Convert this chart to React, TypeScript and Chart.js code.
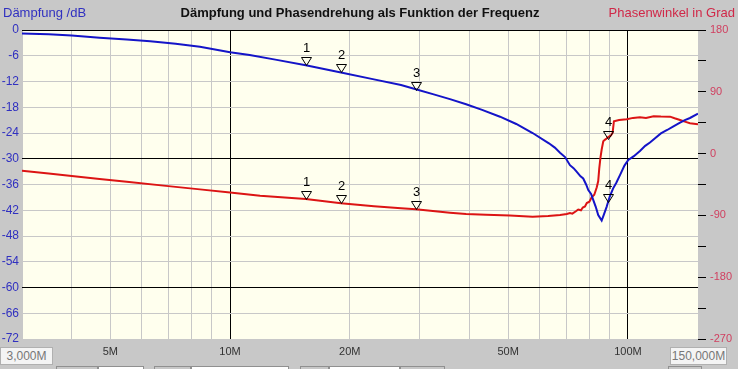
import React, { useEffect, useRef } from 'react';
import { Chart, registerables } from 'chart.js';

Chart.register(...registerables);

// Attenuation curve (frequency in MHz, attenuation in dB)
const dbFreqs = [3.0, 3.5, 4.0, 4.7, 5.5, 6.3, 7.3, 8.4, 10.0, 11.2, 13.0, 15.5, 19.0, 23.0, 26.9, 29.3, 32.5, 35.7, 39.2, 43.0, 47.7, 52.4, 57.6, 63.3, 65.5, 67.5, 69.5, 71.5, 73.0, 74.3, 76.0, 77.2, 78.5, 79.5, 80.8, 81.8, 83.0, 84.2, 85.9, 87.0, 88.4, 90.0, 91.8, 93.5, 95.5, 98.0, 100.2, 103.5, 107.2, 110.5, 113.6, 117.0, 121.0, 125.5, 129.8, 135.2, 139.0, 143.2, 150.0];
const dbValues = [-0.8, -1.0, -1.3, -1.8, -2.2, -2.6, -3.2, -3.9, -5.2, -5.8, -6.9, -8.2, -9.9, -11.5, -12.8, -13.8, -15.0, -16.1, -17.3, -18.6, -20.2, -21.9, -24.0, -26.4, -27.4, -28.6, -29.6, -31.5, -32.2, -33.0, -34.1, -34.6, -36.0, -37.3, -38.2, -39.6, -41.2, -43.1, -44.4, -43.0, -41.2, -38.8, -36.9, -35.6, -33.8, -31.6, -30.3, -29.4, -28.2, -27.0, -26.2, -25.2, -24.1, -23.3, -22.5, -21.6, -21.0, -20.5, -19.5];

// Phase curve (frequency in MHz, phase in degrees)
const phaseFreqs = [3.0, 3.5, 4.0, 4.7, 5.5, 6.9, 8.4, 10.0, 11.9, 15.5, 19.0, 23.0, 26.9, 29.3, 35.7, 39.2, 44.0, 50.5, 57.6, 63.0, 67.5, 70.2, 71.5, 72.5, 74.0, 75.0, 76.2, 77.0, 78.0, 78.8, 80.0, 81.1, 82.3, 83.5, 84.2, 84.7, 85.3, 85.9, 86.7, 87.5, 88.4, 89.2, 90.5, 91.5, 92.2, 95.0, 99.3, 103.0, 107.2, 111.0, 116.0, 121.0, 127.6, 131.0, 135.2, 139.0, 143.2, 150.0];
const phaseValues = [-25, -29, -32.6, -37, -40.9, -47, -52.1, -56.8, -61.3, -66, -72.4, -76.5, -79.7, -81, -86, -88, -89.2, -90.3, -91.8, -90.8, -89.4, -88, -86.5, -87.5, -84, -81.5, -82.5, -78.5, -77, -72, -70, -63.5, -60, -49, -40, -22, -6, 6, 18, 20, 22, 24, 26, 30, 47, 49, 50, 52, 53, 52, 54.5, 54, 53.8, 51.5, 49, 46.5, 44.1, 42.7];

// Markers
const markerNames = ['1', '2', '3', '4'];
const markerFreqs = [15.5, 19.0, 29.3, 89.2];
const markerDb = [-8.2, -9.9, -14.0, -40.0];
const markerPhase = [-66, -72.4, -81, 21];

// Axes
const xMin = 3;
const xMax = 150;
const xGridValues = [3, 4, 5, 6, 7, 8, 9, 10, 20, 30, 40, 50, 60, 70, 80, 90, 100, 150];
const xMajorValues = [10, 100];
const xLabelValues = [5, 10, 20, 50, 100];
const xLabels = ['5M', '10M', '20M', '50M', '100M'];
const dbMin = -72;
const dbMax = 0;
const dbStep = 6;
const phMin = -270;
const phMax = 180;
const phStep = 45;

const FONT = '"Liberation Sans", Arial, sans-serif';
const PLOT_BG = '#FFFFEE';
const OUTER_BG = '#C8C8C8';
const GRID = '#C8C8C8';

export default function App() {
  const ref = useRef<HTMLCanvasElement>(null);

  useEffect(() => {
    const canvas = ref.current;
    if (!canvas) return;

    const bgPlugin = {
      id: 'bgPlugin',
      beforeDraw(chart: any) {
        const { ctx, chartArea: a, width, height } = chart;
        ctx.save();
        ctx.fillStyle = OUTER_BG;
        ctx.fillRect(0, 0, width, height);
        ctx.fillStyle = PLOT_BG;
        ctx.fillRect(a.left, a.top, a.right - a.left, a.bottom - a.top);
        ctx.restore();
      },
    };

    const markerPlugin = {
      id: 'markerPlugin',
      afterDatasetsDraw(chart: any) {
        const ctx = chart.ctx;
        const xs = chart.scales.x;
        const yd = chart.scales.yDb;
        const yp = chart.scales.yPh;
        ctx.save();
        ctx.font = '13px ' + FONT;
        ctx.textAlign = 'center';
        ctx.textBaseline = 'middle';
        const draw = (px: number, py: number, label: string) => {
          const x = Math.round(px) + 0.5;
          const y = Math.round(py) + 0.5;
          ctx.beginPath();
          ctx.moveTo(x - 5, y - 8);
          ctx.lineTo(x + 5, y - 8);
          ctx.lineTo(x, y);
          ctx.closePath();
          ctx.strokeStyle = '#000';
          ctx.lineWidth = 1;
          ctx.stroke();
          ctx.fillStyle = '#000';
          ctx.fillText(label, x, y - 17);
        };
        markerNames.forEach((n, i) => {
          const x = xs.getPixelForValue(markerFreqs[i]);
          draw(x, yd.getPixelForValue(markerDb[i]), n);
          draw(x, yp.getPixelForValue(markerPhase[i]), n);
        });
        ctx.restore();
      },
    };

    const chart = new Chart(canvas, {
      type: 'line',
      data: {
        datasets: [
          {
            label: 'Dämpfung',
            data: dbFreqs.map((f, i) => ({ x: f, y: dbValues[i] })),
            yAxisID: 'yDb',
            borderColor: '#1414C8',
            borderWidth: 2,
            pointRadius: 0,
            tension: 0,
            fill: false,
          },
          {
            label: 'Phasenwinkel',
            data: phaseFreqs.map((f, i) => ({ x: f, y: phaseValues[i] })),
            yAxisID: 'yPh',
            borderColor: '#DC1414',
            borderWidth: 2,
            pointRadius: 0,
            tension: 0,
            fill: false,
          },
        ],
      },
      options: {
        animation: false,
        responsive: true,
        maintainAspectRatio: false,
        devicePixelRatio: 1,
        layout: { padding: { top: 30, left: 0, right: 0, bottom: 0 } },
        plugins: {
          legend: { display: false },
          title: { display: false },
          tooltip: { enabled: false },
        },
        scales: {
          x: {
            type: 'logarithmic',
            min: xMin,
            max: xMax,
            afterBuildTicks: (s: any) => {
              s.ticks = xGridValues.map((v) => ({ value: v }));
            },
            afterFit: (s: any) => {
              s.height = 30;
            },
            ticks: {
              autoSkip: false,
              maxRotation: 0,
              minRotation: 0,
              padding: 6,
              color: '#333333',
              font: { family: FONT, size: 11 },
              callback: (v: any) => {
                const i = xLabelValues.indexOf(Number(v));
                return i >= 0 ? xLabels[i] : '';
              },
            },
            grid: {
              drawTicks: false,
              lineWidth: 1,
              color: (c: any) => (c.tick && xMajorValues.includes(c.tick.value) ? '#000000' : GRID),
            },
            border: { display: false },
          },
          yDb: {
            type: 'linear',
            position: 'left',
            min: dbMin,
            max: dbMax,
            afterFit: (s: any) => {
              s.width = 22;
            },
            ticks: {
              stepSize: dbStep,
              padding: 3,
              color: '#3030C0',
              font: { family: FONT, size: 12 },
            },
            grid: {
              drawTicks: false,
              lineWidth: 1,
              color: (c: any) => (c.tick && c.tick.value % 30 === 0 ? '#000000' : GRID),
            },
            border: { display: false },
          },
          yPh: {
            type: 'linear',
            position: 'right',
            min: phMin,
            max: phMax,
            afterFit: (s: any) => {
              s.width = 40;
            },
            ticks: {
              stepSize: phStep,
              padding: 4,
              color: '#D04060',
              font: { family: FONT, size: 11 },
              callback: (v: any) => (Number(v) % 90 === 0 ? String(v) : ''),
            },
            grid: {
              drawOnChartArea: false,
              drawTicks: true,
              tickLength: 8,
              tickColor: '#000000',
              color: '#000000',
            },
            border: { display: false },
          },
        },
      },
      plugins: [bgPlugin, markerPlugin],
    } as any);

    return () => chart.destroy();
  }, []);

  const bottomBoxes = [
    { left: 56, width: 42, bg: '#C8C8C8' },
    { left: 98, width: 46, bg: '#FFFFFF' },
    { left: 154, width: 37, bg: '#C8C8C8' },
    { left: 191, width: 98, bg: '#FFFFFF' },
    { left: 300, width: 29, bg: '#C8C8C8' },
    { left: 329, width: 71, bg: '#FFFFFF' },
    { left: 400, width: 45, bg: '#C8C8C8' },
    { left: 668, width: 34, bg: '#C8C8C8' },
  ];

  return (
    <div style={{ position: 'relative', width: 738, height: 369, background: OUTER_BG, overflow: 'hidden', fontFamily: FONT }}>
      <style>{'body{margin:0;}'}</style>
      <canvas ref={ref} style={{ position: 'absolute', left: 0, top: 0, width: 738, height: 369 }} />
      <div style={{ position: 'absolute', left: 3, top: 5, fontSize: 13, color: '#3030C0', whiteSpace: 'nowrap' }}>Dämpfung /dB</div>
      <div style={{ position: 'absolute', left: 22, width: 676, top: 5, fontSize: 13, fontWeight: 'bold', color: '#111111', textAlign: 'center', whiteSpace: 'nowrap' }}>
        Dämpfung und Phasendrehung als Funktion der Frequenz
      </div>
      <div style={{ position: 'absolute', right: 3, top: 5, fontSize: 13, color: '#D02848', whiteSpace: 'nowrap' }}>Phasenwinkel in Grad</div>
      <div style={{ position: 'absolute', left: 0, top: 347, width: 53, height: 18, boxSizing: 'border-box', background: '#F4F4F4', border: '1px solid #B0B0B0', color: '#777777', fontSize: 12, lineHeight: '16px', textAlign: 'center' }}>3,000M</div>
      <div style={{ position: 'absolute', left: 670, top: 347, width: 57, height: 18, boxSizing: 'border-box', background: '#F4F4F4', border: '1px solid #B0B0B0', color: '#777777', fontSize: 12, lineHeight: '16px', textAlign: 'center' }}>150,000M</div>
      {bottomBoxes.map((b, i) => (
        <div key={i} style={{ position: 'absolute', left: b.left, top: 366, width: b.width, height: 6, boxSizing: 'border-box', background: b.bg, border: '1px solid #909090' }} />
      ))}
    </div>
  );
}
